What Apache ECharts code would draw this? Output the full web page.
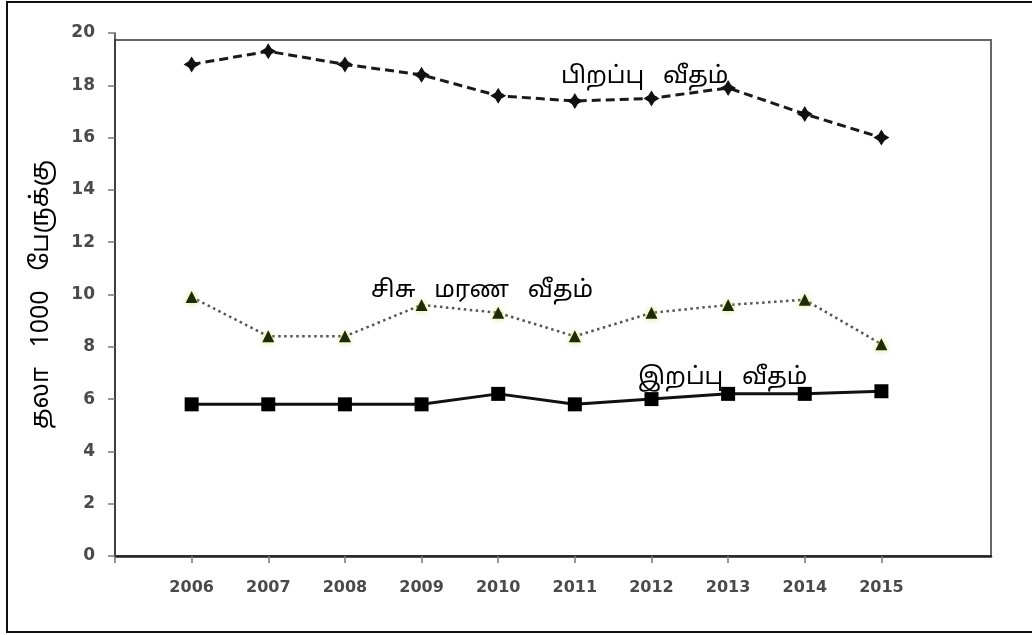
<!DOCTYPE html>
<html>
<head>
<meta charset="utf-8">
<title>பிறப்பு, இறப்பு, சிசு மரண வீதம் 2006-2015</title>
<script src="https://cdn.jsdelivr.net/npm/echarts@6/dist/echarts.min.js"></script>
<style>
  html, body { margin: 0; padding: 0; background: #fff; }
  #chart { width: 1032px; height: 635px; }
</style>
</head>
<body>
<div id="chart"></div>
<script>
// Years on the horizontal axis
const years = [2006, 2007, 2008, 2009, 2010, 2011, 2012, 2013, 2014, 2015];

// Rates per 1000 people
const birthRate = [18.8, 19.3, 18.8, 18.4, 17.6, 17.4, 17.5, 17.9, 16.9, 16.0];
const infantMortality = [9.9, 8.4, 8.4, 9.6, 9.3, 8.4, 9.3, 9.6, 9.8, 8.1];
const deathRate = [5.8, 5.8, 5.8, 5.8, 6.2, 5.8, 6.0, 6.2, 6.2, 6.3];

// Y-axis tick values
const yTicks = [0, 2, 4, 6, 8, 10, 12, 14, 16, 18, 20];

// Series names (drawn as in-plot annotations)
const birthName = 'பிறப்பு   வீதம்';
const infantName = 'சிசு   மரண   வீதம்';
const deathName = 'இறப்பு   வீதம்';
const yTitle = 'தலா   1000   பேருக்கு';

const tamilFont = '"Noto Sans Tamil", "Lohit Tamil", "Noto Sans", "DejaVu Sans", sans-serif';
const tickFont = '"DejaVu Sans", sans-serif';

const pairs = vals => years.map((y, i) => [y, vals[i]]);

const chart = echarts.init(document.getElementById('chart'), null, { renderer: 'canvas' });

chart.setOption({
  animation: false,
  backgroundColor: '#fff',
  grid: [
    { left: 115, right: 41, top: 33, bottom: 79, show: false },
    // plot frame
    { left: 115, right: 41, top: 40, bottom: 79, show: true, borderColor: '#666', borderWidth: 2, backgroundColor: 'transparent' }
  ],
  xAxis: [
    {
      type: 'value',
      gridIndex: 0,
      min: 2005,
      max: 2016.43,
      interval: 1,
      splitLine: { show: false },
      axisLine: { show: true, onZero: false, lineStyle: { color: '#222', width: 2.5 } },
      axisTick: {
        show: true,
        customValues: [2005].concat(years),
        length: 7,
        lineStyle: { color: '#777', width: 1.5 }
      },
      axisLabel: {
        customValues: years,
        margin: 24,
        color: '#4a4a4a',
        fontFamily: tickFont,
        fontWeight: 'bold',
        fontSize: 16,
        formatter: v => String(v)
      }
    },
    { type: 'value', gridIndex: 1, show: false, min: 0, max: 1 }
  ],
  yAxis: [
    {
      type: 'value',
      gridIndex: 0,
      min: yTicks[0],
      max: yTicks[yTicks.length - 1],
      interval: 2,
      splitLine: { show: false },
      axisLine: { show: true, lineStyle: { color: '#333', width: 1.5 } },
      axisTick: { show: true, length: 7, lineStyle: { color: '#777', width: 1.5 } },
      axisLabel: {
        margin: 20,
        color: '#4a4a4a',
        fontFamily: tickFont,
        fontWeight: 'bold',
        fontSize: 17
      },
      name: yTitle,
      nameLocation: 'middle',
      nameRotate: 90,
      nameGap: 60,
      nameTextStyle: { color: '#000', fontFamily: tamilFont, fontSize: 25 }
    },
    { type: 'value', gridIndex: 1, show: false, min: 0, max: 1 }
  ],
  series: [
    {
      name: birthName,
      type: 'line',
      xAxisIndex: 0,
      yAxisIndex: 0,
      data: pairs(birthRate),
      symbol: 'path://M0,-10 L3.8,-3.8 L10,0 L3.8,3.8 L0,10 L-3.8,3.8 L-10,0 L-3.8,-3.8 Z',
      symbolSize: 16,
      itemStyle: { color: '#111' },
      lineStyle: { color: '#1a1a1a', width: 3, type: [9, 5] },
      z: 3
    },
    {
      name: infantName,
      type: 'line',
      xAxisIndex: 0,
      yAxisIndex: 0,
      data: pairs(infantMortality),
      symbol: 'triangle',
      symbolSize: 12,
      itemStyle: { color: '#1e2a08', shadowColor: 'rgba(200,215,90,0.8)', shadowBlur: 6 },
      lineStyle: { color: '#555', width: 2.5, type: [2.5, 3.5] },
      z: 2
    },
    {
      name: deathName,
      type: 'line',
      xAxisIndex: 0,
      yAxisIndex: 0,
      data: pairs(deathRate),
      symbol: 'rect',
      symbolSize: 14,
      itemStyle: { color: '#000' },
      lineStyle: { color: '#111', width: 3 },
      z: 3
    }
  ],
  graphic: [
    // outer border of the figure
    {
      type: 'rect',
      silent: true,
      shape: { x: 7, y: 2, width: 1040, height: 630 },
      style: { fill: null, stroke: '#111', lineWidth: 2 }
    },
    {
      type: 'text', left: 561, top: 66, silent: true,
      style: { text: birthName, font: '24px ' + tamilFont, fill: '#000' }
    },
    {
      type: 'text', left: 371, top: 280, silent: true,
      style: { text: infantName, font: '24px ' + tamilFont, fill: '#000' }
    },
    {
      type: 'text', left: 638, top: 367, silent: true,
      style: { text: deathName, font: '24px ' + tamilFont, fill: '#000' }
    }
  ]
});
</script>
</body>
</html>
